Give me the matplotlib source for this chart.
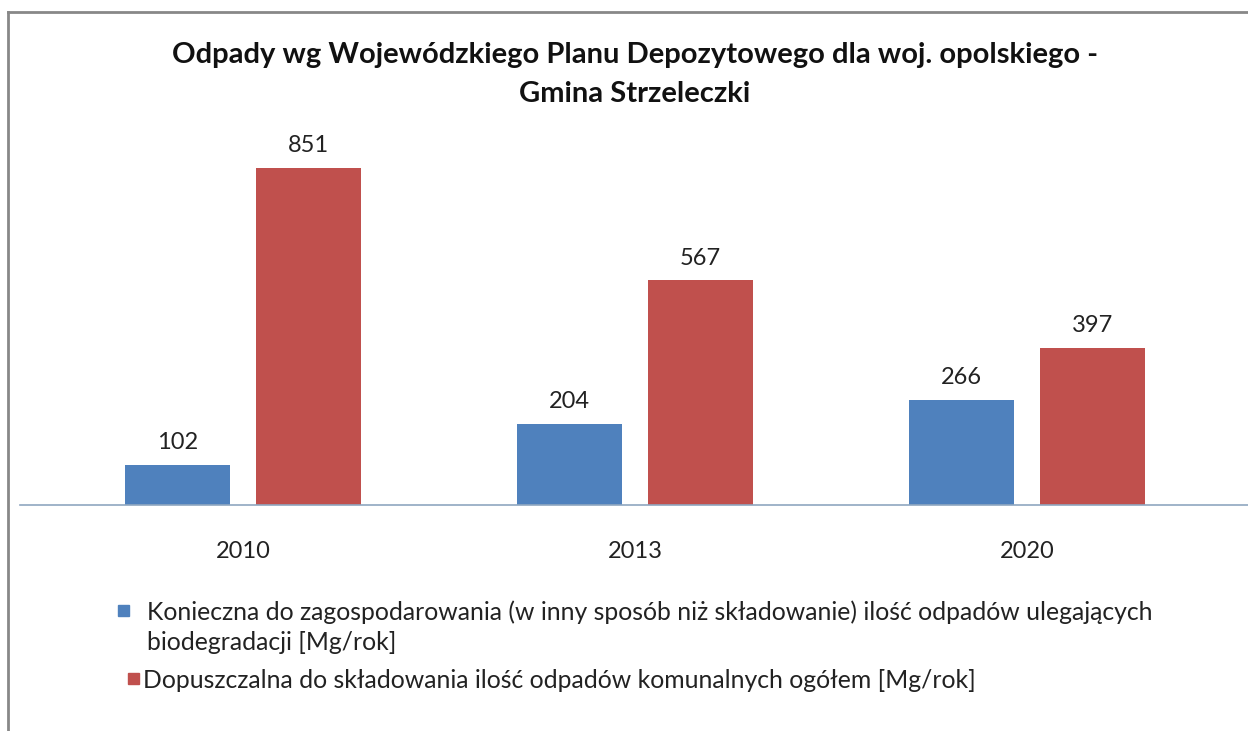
import matplotlib
matplotlib.use("Agg")
import matplotlib.pyplot as plt
from matplotlib.patches import Rectangle
from matplotlib.lines import Line2D
import numpy as np

categories = ["2010", "2013", "2020"]
biodegradable = [102, 204, 266]
municipal = [851, 567, 397]
series_labels = [
    "Konieczna do zagospodarowania (w inny sposób niż składowanie) ilość odpadów ulegających\nbiodegradacji [Mg/rok]",
    "Dopuszczalna do składowania ilość odpadów komunalnych ogółem [Mg/rok]",
]
title = "Odpady wg Wojewódzkiego Planu Depozytowego dla woj. opolskiego -\nGmina Strzeleczki"

blue = "#4F81BD"
red = "#C0504D"
FONT = ["Lato", "DejaVu Sans"]
plt.rcParams["font.family"] = FONT

W, H = 1248, 731
fig = plt.figure(figsize=(W / 100, H / 100), dpi=100)
fig.patch.set_facecolor("white")

# axes: baseline at y=505 px, top at y=130 px, left at x=20 px
ax = fig.add_axes([20 / W, (H - 505) / H, 1 - 20 / W, (505 - 130) / H])
x = np.arange(len(categories))
off = 0.167
bw = 0.268
ax.bar(x - off, biodegradable, width=bw, color=blue, zorder=2)
ax.bar(x + off, municipal, width=bw, color=red, zorder=2)
for xi, v in zip(x, biodegradable):
    ax.text(xi - off, v + 30, str(v), ha="center", va="bottom", fontsize=17, color="#222222")
for xi, v in zip(x, municipal):
    ax.text(xi + off, v + 30, str(v), ha="center", va="bottom", fontsize=17, color="#222222")

ax.set_xlim(-0.569, (W - 243) / 392)
ax.set_ylim(0, (505 - 130) / 0.396)
for s in ["top", "right", "left"]:
    ax.spines[s].set_visible(False)
ax.spines["bottom"].set_color("#8FA7C0")
ax.spines["bottom"].set_linewidth(1.2)
ax.set_yticks([])
ax.set_xticks(x)
ax.set_xticklabels(categories, fontsize=17, color="#222222")
ax.tick_params(axis="x", length=0, pad=26)
ax.patch.set_alpha(0)

# title
fig.text(635 / W, 1 - 55 / H, title.split("\n")[0], ha="center", va="center",
         fontsize=21, fontweight="bold", color="#111111")
fig.text(635 / W, 1 - 94 / H, title.split("\n")[1], ha="center", va="center",
         fontsize=21, fontweight="bold", color="#111111")

# legend (manual)
sq = 11
lines1 = series_labels[0].split("\n")
fig.patches.append(Rectangle((118 / W, 1 - 616 / H), sq / W, sq / H, transform=fig.transFigure,
                             color=blue, figure=fig))
fig.text(147 / W, 1 - 612 / H, lines1[0], ha="left", va="center", fontsize=17.8, color="#222222")
fig.text(147 / W, 1 - 643 / H, lines1[1], ha="left", va="center", fontsize=17.8, color="#222222")
fig.patches.append(Rectangle((128 / W, 1 - 684 / H), sq / W, sq / H, transform=fig.transFigure,
                             color=red, figure=fig))
fig.text(143 / W, 1 - 680 / H, series_labels[1], ha="left", va="center", fontsize=17.8, color="#222222")

# chart border (top and left visible)
fig.lines.append(Line2D([8 / W, 1], [1 - 12 / H, 1 - 12 / H], transform=fig.transFigure,
                        color="#888888", linewidth=2, figure=fig))
fig.lines.append(Line2D([8 / W, 8 / W], [0, 1 - 12 / H], transform=fig.transFigure,
                        color="#888888", linewidth=2, figure=fig))

fig.savefig("out.png", dpi=100, facecolor="white")
